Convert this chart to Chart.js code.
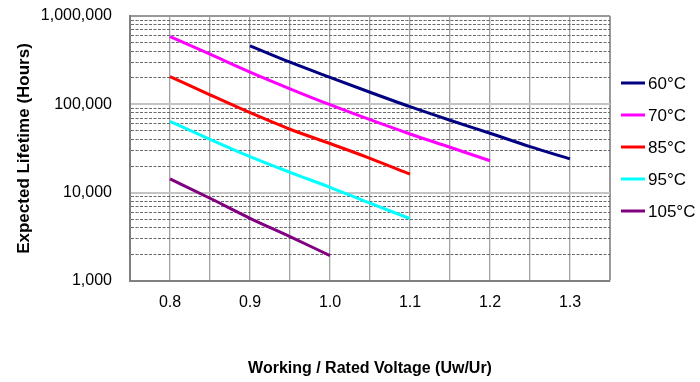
<!DOCTYPE html>
<html>
<head>
<meta charset="utf-8">
<script src="https://cdn.jsdelivr.net/npm/chart.js@4.4.1/dist/chart.umd.min.js"></script>
<style>
  html, body { margin: 0; padding: 0; background: #ffffff; }
  #wrap { width: 700px; height: 382px; position: relative; }
</style>
</head>
<body>
<div id="wrap"><canvas id="c" width="700" height="382"></canvas></div>
<script>
// ---- data ----
const voltageRatios = [0.80, 0.85, 0.90, 0.95, 1.00, 1.05, 1.10, 1.15, 1.20, 1.25, 1.30];
const seriesNames = ['60°C', '70°C', '85°C', '95°C', '105°C'];
const life60  = [null, null, 460000, 300000, 202000, 137000, 94000, 66000, 47000, 33200, 24100];
const life70  = [585000, 369000, 232000, 150000, 99000, 67000, 46200, 32700, 23000, null, null];
const life85  = [206000, 128000, 80500, 52200, 36000, 24500, 16200, null, null, null, null];
const life95  = [64000, 40200, 25600, 17000, 11500, 7600, 5080, null, null, null, null];
const life105 = [14300, 8640, 5130, 3180, 1940, null, null, null, null, null, null];
const xTickValues = [0.8, 0.9, 1.0, 1.1, 1.2, 1.3];
const xTickLabels = ['0.8', '0.9', '1.0', '1.1', '1.2', '1.3'];
const yTickValues = [1000, 10000, 100000, 1000000];
const yTickLabels = ['1,000', '10,000', '100,000', '1,000,000'];
const xTitle = 'Working / Rated Voltage (Uw/Ur)';
const yTitle = 'Expected Lifetime (Hours)';

const colors = ['#000080', '#ff00ff', '#ff0000', '#00ffff', '#800080'];
const allSeries = [life60, life70, life85, life95, life105];

const FONT = "'Liberation Sans', Arial, sans-serif";
const X_MIN = 0.75, X_MAX = 1.35, Y_MIN = 1000, Y_MAX = 1000000;

function near(a, b) { return Math.abs(a - b) < 1e-6 * Math.max(1, Math.abs(b)); }

const legendPlugin = {
  id: 'sideLegend',
  afterDraw(chart) {
    const ctx = chart.ctx;
    const n = chart.data.datasets.length;
    const spacing = 32;
    const cy = (chart.chartArea.top + chart.chartArea.bottom) / 2 - 1.5;
    const y0 = cy - spacing * (n - 1) / 2;
    ctx.save();
    ctx.font = '17px ' + FONT;
    ctx.textBaseline = 'middle';
    ctx.textAlign = 'left';
    chart.data.datasets.forEach((ds, i) => {
      const y = y0 + i * spacing;
      ctx.strokeStyle = ds.borderColor;
      ctx.lineWidth = 3;
      ctx.beginPath();
      ctx.moveTo(621, y);
      ctx.lineTo(645, y);
      ctx.stroke();
      ctx.fillStyle = '#000';
      ctx.fillText(ds.label, 648, y + 1);
    });
    ctx.restore();
  }
};

new Chart(document.getElementById('c'), {
  type: 'line',
  data: {
    labels: voltageRatios,
    datasets: seriesNames.map((name, i) => ({
      label: name,
      data: allSeries[i],
      borderColor: colors[i],
      backgroundColor: colors[i],
      borderWidth: 3,
      pointRadius: 0,
      cubicInterpolationMode: 'monotone',
      fill: false,
      spanGaps: false
    }))
  },
  options: {
    responsive: false,
    animation: false,
    devicePixelRatio: 1,
    layout: { padding: { top: 16, right: 90, bottom: 0, left: 0 } },
    plugins: {
      legend: { display: false },
      tooltip: { enabled: false }
    },
    scales: {
      x: {
        type: 'linear',
        min: X_MIN,
        max: X_MAX,
        afterBuildTicks(scale) {
          const t = [];
          for (let k = 0; k <= 12; k++) t.push({ value: Math.round((X_MIN + k * 0.05) * 100) / 100 });
          scale.ticks = t;
        },
        afterFit(scale) { scale.height = 101; scale.paddingLeft = 0; scale.paddingRight = 0; },
        ticks: {
          autoSkip: false,
          maxRotation: 0,
          padding: 12,
          color: '#000',
          font: { family: FONT, size: 16 },
          callback(v) {
            const idx = xTickValues.findIndex(x => near(x, v));
            return idx >= 0 ? xTickLabels[idx] : '';
          }
        },
        grid: {
          drawTicks: false,
          color(ctx) {
            const v = ctx.tick && ctx.tick.value;
            return near(v, X_MAX) ? '#999999' : '#a0a0a0';
          },
          lineWidth(ctx) {
            const v = ctx.tick && ctx.tick.value;
            return near(v, X_MAX) ? 2 : 1.3;
          }
        },
        border: { display: true, color: '#808080', width: 2 },
        title: {
          display: true,
          text: xTitle,
          color: '#000',
          font: { family: FONT, size: 16, weight: 'bold' },
          padding: { top: 0, bottom: 4 }
        }
      },
      y: {
        type: 'logarithmic',
        min: Y_MIN,
        max: Y_MAX,
        afterBuildTicks(scale) {
          const t = [];
          for (let d = 0; d < yTickValues.length; d++) {
            const dec = yTickValues[d];
            t.push({ value: dec, major: true });
            if (d < yTickValues.length - 1) {
              for (let m = 2; m <= 9; m++) t.push({ value: dec * m });
            }
          }
          scale.ticks = t;
        },
        afterFit(scale) { scale.width = 130; scale.paddingTop = 0; scale.paddingBottom = 0; },
        ticks: {
          autoSkip: false,
          padding: 18,
          color: '#000',
          font: { family: FONT, size: 16 },
          callback(v) {
            const idx = yTickValues.findIndex(y => near(y, v));
            return idx >= 0 ? yTickLabels[idx] : '';
          }
        },
        grid: {
          drawTicks: false,
          color(ctx) {
            const v = ctx.tick && ctx.tick.value;
            if (near(v, Y_MAX)) return '#999999';
            return yTickValues.some(y => near(y, v)) ? '#c4c4c4' : '#6a6a6a';
          },
          lineWidth(ctx) {
            const v = ctx.tick && ctx.tick.value;
            if (near(v, Y_MAX)) return 2;
            return yTickValues.some(y => near(y, v)) ? 2 : 1;
          }
        },
        border: {
          display: true,
          color: '#808080',
          width: 2,
          dash(ctx) {
            const v = ctx.tick && ctx.tick.value;
            if (v === undefined) return [];
            return yTickValues.some(y => near(y, v)) ? [] : [3, 1.5];
          }
        },
        title: {
          display: true,
          text: yTitle,
          color: '#000',
          font: { family: FONT, size: 17, weight: 'bold' },
          padding: { top: 14, bottom: 0 }
        }
      }
    }
  },
  plugins: [legendPlugin]
});
</script>
</body>
</html>
